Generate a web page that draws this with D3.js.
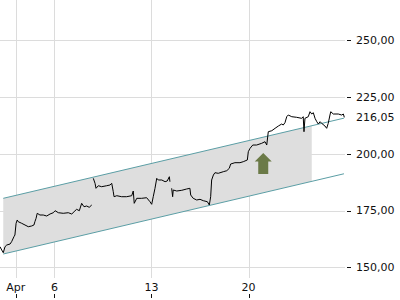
<!DOCTYPE html>
<html>
<head>
<meta charset="utf-8">
<script src="https://cdn.jsdelivr.net/npm/d3@7"></script>
<style>
  html, body { margin: 0; padding: 0; background: #fff; }
  svg { display: block; }
  text { font-family: "DejaVu Sans", sans-serif; font-size: 11px; fill: #111; }
</style>
</head>
<body>
<svg id="chart" width="400" height="300"></svg>
<script>
// ---- data (x in trading-day units; ticks at Apr, 6, 13, 20) ----
const xTickPos = [0, 2, 7, 12];
const xTickLabels = ["Apr", "6", "13", "20"];
const yTickValues = [150, 175, 200, 225, 250];
const lastValue = 216.05;

const days = [-0.81,-0.72,-0.64,-0.55,-0.46,-0.29,-0.21,-0.09,-0.04,0.02,0.08,0.13,0.31,0.48,0.65,0.82,0.94,0.99,1.05,1.11,1.25,1.42,1.60,1.77,1.94,2.03,2.20,2.45,2.71,2.89,3.01,3.14,3.28,3.40,3.52,3.66,3.79,3.92,3.96,
  4.00,4.09,4.14,4.26,4.43,4.69,4.86,4.95,5.03,5.07,5.21,5.46,5.72,5.98,6.06,6.11,6.24,6.49,6.75,6.92,7.01,7.09,7.18,7.27,7.35,7.53,7.70,7.81,7.92,7.95,7.99,
  8.04,8.09,8.12,8.30,8.56,8.81,8.98,9.02,9.15,9.33,9.50,9.67,9.88,9.98,10.05,10.10,10.19,10.27,10.44,10.70,10.88,11.01,11.08,11.30,11.56,11.73,11.94,11.99,12.08,12.22,12.42,12.68,12.85,12.94,
  13.02,13.20,13.37,13.54,13.71,13.79,13.88,13.97,14.05,14.23,14.48,14.74,14.82,14.86,14.91,15.08,15.17,15.26,15.34,15.43,15.52,15.60,15.69,15.77,15.94,16.03,16.11,16.20,16.24,16.37,16.63,16.80,16.89,16.94];
const prices = [159.07,157.62,156.43,159.07,159.82,160.26,161.28,163.48,164.23,169.38,170.84,170.09,169.38,168.63,167.88,168.19,168.63,170.09,171.58,173.79,173.04,173.04,172.60,173.48,174.05,174.93,174.05,173.79,174.05,173.48,174.49,175.55,174.93,178.19,176.69,177.00,176.43,177.44,null,
  189.20,187.00,184.80,185.94,185.50,185.94,186.25,187.00,183.30,181.10,181.54,181.10,181.10,181.54,183.61,178.19,180.39,180.39,180.66,178.90,177.75,181.10,184.80,189.20,188.46,188.46,187.71,188.02,189.91,187.71,null,
  184.80,181.10,184.05,183.61,183.92,184.49,184.80,181.85,180.39,179.65,179.95,179.34,178.90,177.44,181.10,188.46,190.66,191.67,191.41,192.11,192.55,193.61,195.50,196.08,196.08,196.52,197.27,200.92,202.42,203.87,203.87,204.62,205.33,203.87,
  209.73,210.17,211.23,212.24,213.12,212.68,213.70,216.34,217.09,216.34,216.08,215.63,216.34,209.73,215.63,216.34,218.54,217.53,218.10,215.63,214.14,213.12,214.14,213.43,212.24,211.23,213.43,217.09,218.54,217.53,217.53,217.09,217.53,216.05];

// trend channel (two parallel lines), shaded up to fillEndDay
const channelDays = [-0.64, 16.92];
const channelUpper = [180.39, 215.70];
const channelLower = [155.86, 191.20];
const fillEndDay = 15.26;

// signal arrow position (day, value of tip)
const arrowDay = 12.76;
const arrowTipValue = 200.4;

// ---- layout ----
const svg = d3.select("#chart");
const plotRight = 345, plotBottom = 278;

const x = d3.scaleLinear().domain([-0.809, 16.974]).range([0, plotRight]);
const y = d3.scaleLinear().domain([145.29, 267.75]).range([plotBottom, 0]);

// grid
const grid = svg.append("g").attr("stroke", "#dcdcdc").attr("stroke-width", 1);
grid.selectAll("line.h").data(yTickValues).enter().append("line")
  .attr("x1", 0).attr("x2", plotRight)
  .attr("y1", d => Math.round(y(d)) + 0.5).attr("y2", d => Math.round(y(d)) + 0.5);
grid.selectAll("line.v").data(xTickPos).enter().append("line")
  .attr("y1", 0).attr("y2", plotBottom)
  .attr("x1", d => Math.round(x(d)) + 0.5).attr("x2", d => Math.round(x(d)) + 0.5);

// channel fill
const lerp = (arr, d) => arr[0] + (arr[1] - arr[0]) * (d - channelDays[0]) / (channelDays[1] - channelDays[0]);
const fillDays = [channelDays[0], fillEndDay];
const area = d3.area()
  .x(d => x(d))
  .y0(d => y(lerp(channelLower, d)))
  .y1(d => y(lerp(channelUpper, d)));
svg.append("path").datum(fillDays).attr("d", area).attr("fill", "#dedede");

// channel lines
const chLine = d3.line().x(d => x(d[0])).y(d => y(d[1]));
[channelUpper, channelLower].forEach(arr => {
  svg.append("path")
    .datum(channelDays.map((d, i) => [d, arr[i]]))
    .attr("d", chLine)
    .attr("fill", "none").attr("stroke", "#5b9ea5").attr("stroke-width", 1);
});

// arrow
const ax = x(arrowDay), ay = y(arrowTipValue);
const arrowPts = [[0,0],[8.5,8.5],[5,8.5],[5,21],[-5,21],[-5,8.5],[-8.5,8.5]];
svg.append("path")
  .attr("d", "M" + arrowPts.map(p => [ax + p[0], ay + p[1]].join(",")).join("L") + "Z")
  .attr("fill", "#6b7a47");

// price line
const priceData = days.map((d, i) => [d, prices[i]]);
const pLine = d3.line().defined(d => d[1] !== null).x(d => x(d[0])).y(d => y(d[1]));
svg.append("path").datum(priceData).attr("d", pLine)
  .attr("fill", "none").attr("stroke", "#000").attr("stroke-width", 1);

// y axis (right)
const fmt = v => d3.format(".2f")(v).replace(".", ",");
const yAxis = svg.append("g");
yAxis.selectAll("line").data(yTickValues).enter().append("line")
  .attr("x1", 347).attr("x2", 351)
  .attr("y1", d => Math.round(y(d)) + 0.5).attr("y2", d => Math.round(y(d)) + 0.5)
  .attr("stroke", "#111");
yAxis.selectAll("text.t").data(yTickValues).enter().append("text")
  .attr("x", 356).attr("y", d => y(d)).attr("dy", "0.35em").text(fmt);
svg.append("text").attr("x", 356).attr("y", y(lastValue)).attr("dy", "0.35em").text(fmt(lastValue));

// x axis (bottom)
const xAxis = svg.append("g");
xAxis.selectAll("text").data(xTickPos).enter().append("text")
  .attr("x", d => x(d)).attr("y", 291).attr("text-anchor", "middle")
  .text((d, i) => xTickLabels[i]);
xAxis.selectAll("line").data(xTickPos).enter().append("line")
  .attr("x1", d => Math.round(x(d)) + 0.5).attr("x2", d => Math.round(x(d)) + 0.5)
  .attr("y1", 294).attr("y2", 298).attr("stroke", "#111");
</script>
</body>
</html>
